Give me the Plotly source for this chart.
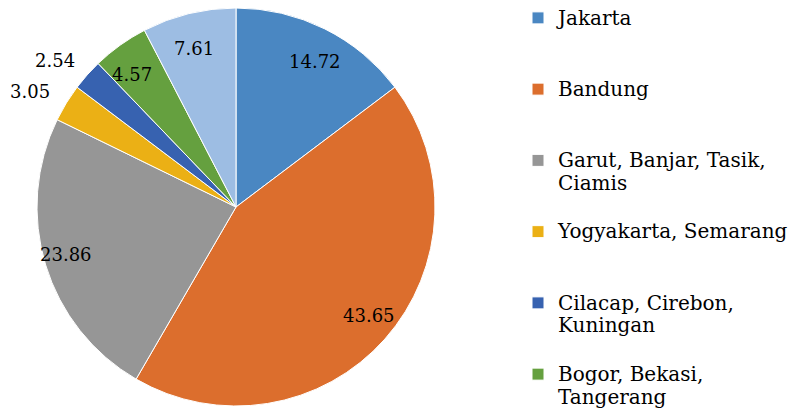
import math
import plotly.graph_objects as go

labels = ["Jakarta", "Bandung", "Garut, Banjar, Tasik,<br>Ciamis", "Yogyakarta, Semarang",
          "Cilacap, Cirebon,<br>Kuningan", "Bogor, Bekasi,<br>Tangerang", "Lainnya"]
values = [14.72, 43.65, 23.86, 3.05, 2.54, 4.57, 7.61]
value_text = ["14.72", "43.65", "23.86", "3.05", "2.54", "4.57", "7.61"]
colors = ["#4a87c2", "#dc6e2d", "#969696", "#ebb015", "#3762b0", "#65a03f", "#9dbde3"]
label_outside = [False, False, False, True, True, False, False]

W, H = 794, 408
# pie placement (pixels)
CX, CY, R = 236, 207, 199
# label placement ellipse (pixels)
RX, RY = 212, 194

# pad legend entries so each occupies an equal slot (as in the reference)
pads = ["<br> <br> ", "<br> <br> ", "<br> ", "<br> <br> ", "<br> ", "<br> ", ""]
def lg(text):
    parts = text.split("<br>")
    return "<br>".join("<span style='font-size:20px'>%s</span>" % p for p in parts)
legend_labels = [lg(l) + p for l, p in zip(labels, pads)]

fig = go.Figure(go.Pie(
    labels=legend_labels,
    values=values,
    textinfo="none",
    sort=False,
    direction="clockwise",
    rotation=0,
    marker=dict(colors=colors, line=dict(color="white", width=1)),
    domain=dict(x=[(CX - R) / W, (CX + R) / W], y=[1 - (CY + R) / H, 1 - (CY - R) / H]),
    hoverinfo="label+value",
))

# value labels positioned at the middle angle of each slice (derived from the data)
total = sum(values)
cum = 0.0
for v, t, out in zip(values, value_text, label_outside):
    mid = (cum + v / 2) / total * 2 * math.pi
    cum += v
    rf = 1.14 if out else 0.84
    px = CX + rf * RX * math.sin(mid)
    py = CY - rf * RY * math.cos(mid)
    fig.add_annotation(x=px / W, y=1 - py / H, xref="paper", yref="paper",
                       xanchor="center", yanchor="middle",
                       text=t, showarrow=False,
                       font=dict(family="DejaVu Serif", size=18, color="black"))

fig.update_layout(
    width=W, height=H,
    margin=dict(l=0, r=0, t=0, b=0),
    paper_bgcolor="white",
    plot_bgcolor="white",
    font=dict(family="DejaVu Serif", size=17.5, color="black"),
    legend=dict(x=518 / W, y=1.0, xanchor="left", yanchor="top",
                valign="top", font=dict(family="DejaVu Serif", size=17.5, color="black"),
                itemwidth=30, tracegroupgap=0, bgcolor="rgba(0,0,0,0)",
                maxheight=2000),
    showlegend=True,
)

fig.write_html("out.html", config={"displayModeBar": False},
               post_script="document.body.style.margin='0px';")
